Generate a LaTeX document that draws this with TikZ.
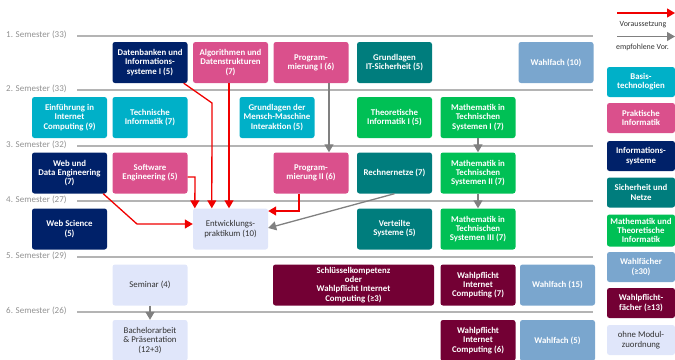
\documentclass[tikz,border=0pt]{standalone}
\usepackage{fontspec}
\setmainfont{Carlito}
\usetikzlibrary{arrows.meta,calc}
\definecolor{cbasis}{RGB}{0,176,200}
\definecolor{cprakt}{RGB}{218,80,140}
\definecolor{cinfo}{RGB}{0,33,105}
\definecolor{csich}{RGB}{0,125,125}
\definecolor{cmath}{RGB}{0,192,85}
\definecolor{cwahl}{RGB}{122,166,206}
\definecolor{cwpf}{RGB}{115,0,52}
\definecolor{cohne}{RGB}{224,230,250}
\definecolor{cline}{RGB}{180,180,180}
\definecolor{clab}{RGB}{145,145,145}
\definecolor{carr}{RGB}{128,128,128}
\definecolor{cred}{RGB}{240,0,0}
\begin{document}
\begin{tikzpicture}[x=1pt,y=-1pt,
  box/.style={rectangle, rounded corners=2.5pt, minimum width=75pt, minimum height=41pt,
    inner sep=1pt, align=center, font=\bfseries\fontsize{8.8}{9.2}\selectfont, text=white, fill=#1},
  lbox/.style={rectangle, rounded corners=2.5pt, minimum width=75pt, minimum height=41pt,
    inner sep=1pt, align=center, font=\fontsize{8.8}{9.4}\selectfont, text=black!80, fill=cohne},
  legbox/.style={box=#1, minimum width=68pt, minimum height=30pt},
  semline/.style={draw=cline, line width=1.3pt},
  semlab/.style={anchor=west, text=clab, font=\fontsize{9}{10}\selectfont, inner sep=0pt},
  req/.style={draw=cred, line width=1.3pt, -{Triangle[length=8pt,width=9pt]}},
  rec/.style={draw=carr, line width=1.3pt, -{Triangle[length=8pt,width=9pt]}},
  legtext/.style={font=\fontsize{7.9}{8.5}\selectfont, text=black!80, inner sep=0pt}
]
\useasboundingbox (0,0) rectangle (675,359);
\clip (0,0) rectangle (675,359);

% semester lines
\foreach \y/\t in {36/1. Semester (33), 90/2. Semester (33), 146/3. Semester (32), 201/4. Semester (27), 257/5. Semester (29), 312/6. Semester (26)}{
  \draw[semline] (77,\y) -- (593,\y);
  \node[semlab] at (6,\y-1.5) {\t};
}

% row 1
\node[box=cinfo] (db) at (150,62.5) {Datenbanken und\\Informations-\\systeme I (5)};
\node[box=cprakt] (alg) at (230.5,62.5) {Algorithmen und\\Datenstrukturen\\(7)};
\node[box=cprakt] (prog1) at (311,62.5) {Program-\\mierung I (6)};
\node[box=csich] (itsec) at (394.5,62.5) {Grundlagen\\IT-Sicherheit (5)};
\node[box=cwahl] (wf10) at (556,62.5) {Wahlfach (10)};

% row 2
\node[box=cbasis] (eic) at (69.5,117.5) {Einführung in\\Internet\\Computing (9)};
\node[box=cbasis] (ti) at (150,117.5) {Technische\\Informatik (7)};
\node[box=cbasis] (mmi) at (277,117.5) {Grundlagen der\\Mensch-Maschine\\Interaktion (5)};
\node[box=cmath] (thi) at (394.5,117.5) {Theoretische\\Informatik I (5)};
\node[box=cmath] (mts1) at (478,117.5) {Mathematik in\\Technischen\\Systemen I (7)};

% row 3
\node[box=cinfo] (wde) at (69.5,173) {Web und\\Data Engineering\\(7)};
\node[box=cprakt] (se) at (150,173) {Software\\Engineering (5)};
\node[box=cprakt] (prog2) at (311,173) {Program-\\mierung II (6)};
\node[box=csich] (rn) at (394.5,173) {Rechnernetze (7)};
\node[box=cmath] (mts2) at (478,173) {Mathematik in\\Technischen\\Systemen II (7)};

% row 4
\node[box=cinfo] (ws) at (69.5,229) {Web Science\\(5)};
\node[lbox] (ep) at (230.5,229) {Entwicklungs-\\praktikum (10)};
\node[box=csich] (vs) at (394.5,229) {Verteilte\\Systeme (5)};
\node[box=cmath] (mts3) at (478,229) {Mathematik in\\Technischen\\Systemen III (7)};

% row 5
\node[lbox] (sem) at (150,285) {Seminar (4)};
\node[box=cwpf, minimum width=161pt] (sk) at (353.5,285) {Schlüsselkompetenz\\oder\\Wahlpflicht Internet\\Computing (≥3)};
\node[box=cwpf] (wpic7) at (478,285) {Wahlpflicht\\Internet\\Computing (7)};
\node[box=cwahl] (wf15) at (557.5,285) {Wahlfach (15)};

% row 6
\node[lbox] (ba) at (150,340.5) {Bachelorarbeit\\\& Präsentation\\(12+3)};
\node[box=cwpf] (wpic6) at (478,340.5) {Wahlpflicht\\Internet\\Computing (6)};
\node[box=cwahl] (wf5) at (557.5,340.5) {Wahlfach (5)};

% legend
\coordinate (lr1) at (617,13);
\coordinate (lr2) at (675,13);
\draw[req] (lr1) -- (lr2);
\node[legtext] (lt1) at (643,24.5) {Voraussetzung};
\coordinate (lg1) at (617,36.5);
\coordinate (lg2) at (675,36.5);
\draw[rec] (lg1) -- (lg2);
\node[legtext] (lt2) at (642.5,47.5) {empfohlene Vor.};
\node[legbox=cbasis] (lb1) at (641,82) {Basis-\\technologien};
\node[legbox=cprakt] (lb2) at (641,118) {Praktische\\Informatik};
\node[legbox=cinfo] (lb3) at (641,156) {Informations-\\systeme};
\node[legbox=csich] (lb4) at (641,192.5) {Sicherheit und\\Netze};
\node[legbox=cmath, minimum height=32pt] (lb5) at (641,230.5) {Mathematik und\\Theoretische\\Informatik};
\node[legbox=cwahl] (lb6) at (641,267) {Wahlfächer\\(≥30)};
\node[legbox=cwpf] (lb7) at (641,303) {Wahlpflicht-\\fächer (≥13)};
\node[legbox=cohne, text=black!80, font=\fontsize{8.8}{9.4}\selectfont] (lb8) at (641,340) {ohne Modul-\\zuordnung};

% required (red)
\draw[req] ([xshift=-4]db.south east) -- (212,103) -- ([xshift=19]ep.north west);
\draw[req] ([xshift=-1.5]alg.south) -- ([xshift=-1.5]ep.north);
\draw[req] ([yshift=-4]se.east) -- (195,177) -- ([xshift=2]ep.north west);
\draw[req] ([xshift=-4]wde.south east) -- (137,224) -- ([yshift=5]ep.west);
\draw[req] ([xshift=-12]prog2.south) -- (299,211) -- ([yshift=18]ep.east);

% recommended (gray)
\draw[rec] ([xshift=18]prog1.south) -- ([xshift=18]prog2.north);
\draw[rec] (rn.south) -- ([yshift=1]ep.east);
\draw[rec] (mts1.south) -- (mts2.north);
\draw[rec] (mts2.south) -- (mts3.north);
\draw[rec] (sem.south) -- (ba.north);
\end{tikzpicture}
\end{document}
